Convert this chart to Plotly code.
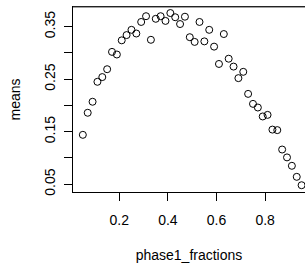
import plotly.graph_objects as go

phase1_fractions = [0.05, 0.07, 0.09, 0.11, 0.13, 0.15, 0.17, 0.19, 0.21, 0.23,
                    0.25, 0.27, 0.29, 0.31, 0.33, 0.35, 0.37, 0.39, 0.41, 0.43,
                    0.45, 0.47, 0.49, 0.51, 0.53, 0.55, 0.57, 0.59, 0.61, 0.63,
                    0.65, 0.67, 0.69, 0.71, 0.73, 0.75, 0.77, 0.79, 0.81, 0.83,
                    0.85, 0.87, 0.89, 0.91, 0.93, 0.95]
means = [0.144, 0.186, 0.207, 0.245, 0.254, 0.269, 0.302, 0.297, 0.324, 0.334,
         0.344, 0.337, 0.359, 0.370, 0.325, 0.365, 0.370, 0.361, 0.376, 0.368,
         0.355, 0.369, 0.330, 0.321, 0.359, 0.322, 0.344, 0.312, 0.279, 0.336,
         0.289, 0.274, 0.252, 0.264, 0.222, 0.203, 0.196, 0.179, 0.182, 0.154,
         0.153, 0.116, 0.101, 0.085, 0.064, 0.048]

x_ticks = [0.2, 0.4, 0.6, 0.8]
x_tick_labels = ["0.2", "0.4", "0.6", "0.8"]
y_ticks = [0.05, 0.10, 0.15, 0.20, 0.25, 0.30, 0.35]
y_tick_labels = ["0.05", "", "0.15", "", "0.25", "", "0.35"]

fig = go.Figure()
fig.add_trace(go.Scatter(
    x=phase1_fractions, y=means, mode="markers",
    marker=dict(symbol="circle-open", size=7, color="black", line=dict(width=1, color="black")),
    showlegend=False, cliponaxis=False, hoverinfo="skip",
))

font = dict(family="Liberation Sans, Arial, sans-serif", size=14, color="black")

fig.update_layout(
    width=305, height=263,
    margin=dict(l=73, r=0, t=7, b=71, pad=0),
    paper_bgcolor="white", plot_bgcolor="white",
    font=font,
    xaxis=dict(
        range=[0.0095, 0.964], tickmode="array", tickvals=x_ticks, ticktext=x_tick_labels,
        ticks="outside", ticklen=8, tickwidth=1, tickcolor="black",
        showline=True, linecolor="black", linewidth=1, mirror=True,
        showgrid=False, zeroline=False, automargin=False, ticklabelstandoff=7,
        title=dict(text="phase1_fractions", font=font, standoff=23),
    ),
    yaxis=dict(
        range=[0.0351, 0.3875], tickmode="array", tickvals=y_ticks, ticktext=y_tick_labels,
        ticks="outside", ticklen=8, tickwidth=1, tickcolor="black", tickangle=-90,
        showline=True, linecolor="black", linewidth=1, mirror=False,
        showgrid=False, zeroline=False, automargin=False, ticklabelstandoff=3,
        title=dict(text="means", font=font, standoff=18),
    ),
    shapes=[dict(type="line", xref="paper", yref="paper", x0=0, x1=1, y0=1, y1=1,
                 line=dict(color="#444444", width=1))],
)

fig.write_html(
    "out.html",
    config={"displayModeBar": False},
    post_script="document.body.style.margin='0px';document.documentElement.style.overflow='hidden';",
)
